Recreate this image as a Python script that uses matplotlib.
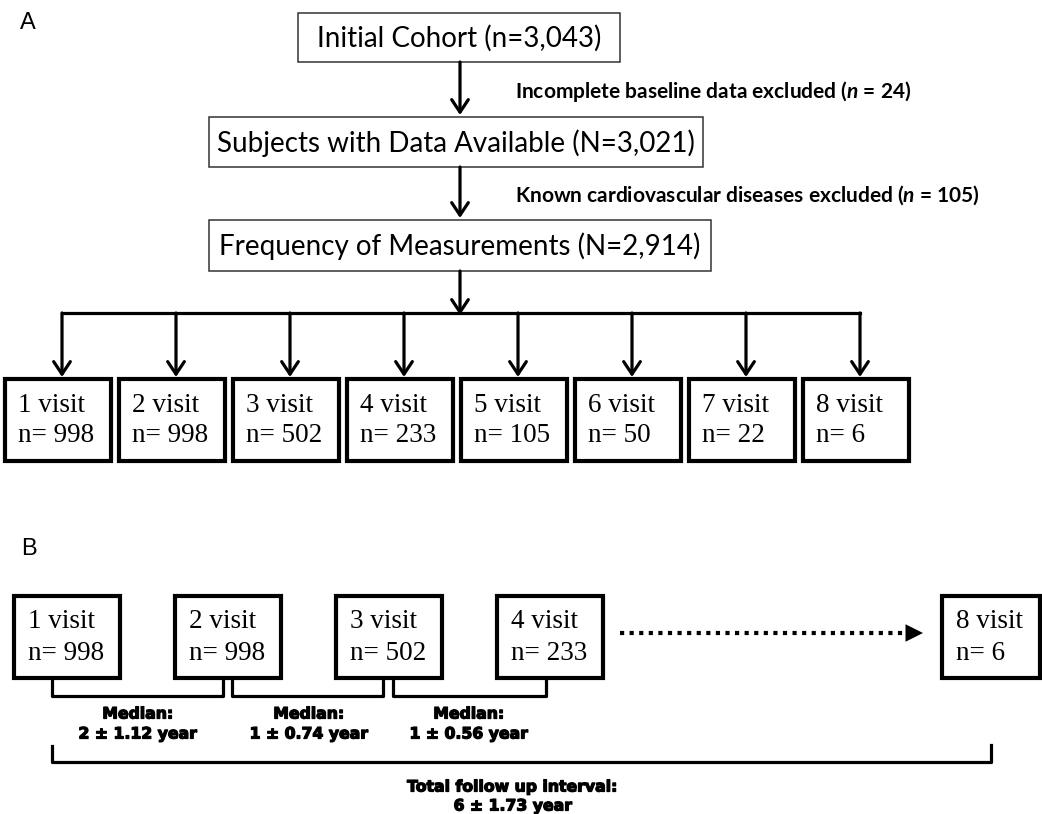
import matplotlib.pyplot as plt
import matplotlib.patheffects as pe
from matplotlib.patches import Rectangle

plt.rcParams["mathtext.fontset"] = "custom"
plt.rcParams["mathtext.it"] = "Lato:bold:italic"
plt.rcParams["mathtext.rm"] = "Lato:bold"

# panel A data
top_steps = ["Initial Cohort (n=3,043)",
             "Subjects with Data Available (N=3,021)",
             "Frequency of Measurements (N=2,914)"]
exclusions = ["Incomplete baseline data excluded ($n$ = 24)",
              "Known cardiovascular diseases excluded ($n$ = 105)"]
visits = [1, 2, 3, 4, 5, 6, 7, 8]
visit_n = [998, 998, 502, 233, 105, 50, 22, 6]

# panel B data
b_visits = [1, 2, 3, 4, 8]
b_n = [998, 998, 502, 233, 6]
median_years = [2, 1, 1]
median_sd = [1.12, 0.74, 0.56]
total_years = 6
total_sd = 1.73

SERIF = "Liberation Serif"
CAL = "Lato"
HEAVY = "DejaVu Sans"
thick = [pe.withStroke(linewidth=0.9, foreground="black")]

fig = plt.figure(figsize=(10.42, 8.14), dpi=100)
ax = fig.add_axes([0, 0, 1, 1])
ax.set_xlim(0, 1042)
ax.set_ylim(814, 0)
ax.axis("off")


def box(x0, y0, x1, y1, lw, color="black"):
    ax.add_patch(Rectangle((x0, y0), x1 - x0, y1 - y0, fill=False,
                           edgecolor=color, linewidth=lw))


def arrow(x, y0, y1, lw=2.3):
    ax.annotate("", xy=(x, y1), xytext=(x, y0),
                arrowprops=dict(arrowstyle="->,head_length=0.45,head_width=0.3",
                                lw=lw, color="black", mutation_scale=20,
                                shrinkA=0, shrinkB=0))


def heavy_text(x, y, s):
    ax.text(x, y, s, fontsize=11.3, family=HEAVY, fontweight="heavy",
            ha="center", va="center", path_effects=thick)


# ---- panel A ----
ax.text(28, 23, "A", fontsize=17, family="Liberation Sans", ha="center", va="center")

top_boxes = [(298, 13, 620, 62), (209, 117, 703, 167), (209, 220, 711, 271)]
for label, (x0, y0, x1, y1) in zip(top_steps, top_boxes):
    box(x0, y0, x1, y1, lw=1.1, color="#333333")
    ax.text((x0 + x1) / 2, (y0 + y1) / 2 + 1, label, fontsize=20, family=CAL,
            ha="center", va="center")

arrow(460, 62, 115)
arrow(460, 167, 218)
for txt, y in zip(exclusions, [92, 195]):
    ax.text(515, y, txt, fontsize=15, family=CAL, fontweight="bold",
            ha="left", va="center")

branch_y = 313
arrow(460, 271, branch_y + 2)
xs = [62 + 114 * i for i in range(len(visits))]
ax.plot([xs[0], xs[-1]], [branch_y, branch_y], color="black", lw=2.3,
        solid_capstyle="projecting")
for i, (v, n) in enumerate(zip(visits, visit_n)):
    x = xs[i]
    arrow(x, branch_y, 377)
    left = x - 57
    box(left, 379, left + 106, 461, lw=3)
    ax.text(left + 13, 405, f"{v} visit", fontsize=19.5, family=SERIF,
            ha="left", va="center")
    ax.text(left + 13, 435, f"n= {n}", fontsize=19.5, family=SERIF,
            ha="left", va="center")

# ---- panel B ----
ax.text(29, 549, "B", fontsize=17, family="Liberation Sans", ha="center", va="center")

b_lefts = [14, 175, 336, 497, 942]
for left, v, n in zip(b_lefts, b_visits, b_n):
    right = min(left + 106, 1040)
    box(left, 596, right, 678, lw=3)
    ax.text(left + 14, 622, f"{v} visit", fontsize=19.5, family=SERIF,
            ha="left", va="center")
    ax.text(left + 14, 653, f"n= {n}", fontsize=19.5, family=SERIF,
            ha="left", va="center")

# dotted connector to the last visit
ax.plot([620, 906], [633, 633], color="black", lw=3.0,
        linestyle=(0, (1.0, 1.3)), dash_capstyle="butt")
ax.annotate("", xy=(923, 633), xytext=(907, 633),
            arrowprops=dict(arrowstyle="-|>,head_length=0.9,head_width=0.45",
                            color="black", lw=0, mutation_scale=14,
                            shrinkA=0, shrinkB=0))

brackets = [(52, 223), (232, 383), (393, 546)]
centers = [138, 309, 469]
for (bx0, bx1), cx, m, sd in zip(brackets, centers, median_years, median_sd):
    ax.plot([bx0, bx0, bx1, bx1], [678, 696, 696, 678], color="black", lw=2.3)
    heavy_text(cx, 714, "Median:")
    heavy_text(cx, 734, f"{m} \u00b1 {sd:.2f} year")

ax.plot([52, 52, 991, 991], [746, 762, 762, 745], color="black", lw=2.3)
heavy_text(513, 787, "Total follow up interval:")
heavy_text(513, 806, f"{total_years} \u00b1 {total_sd:.2f} year")

fig.savefig("out.png", dpi=100, facecolor="white")
